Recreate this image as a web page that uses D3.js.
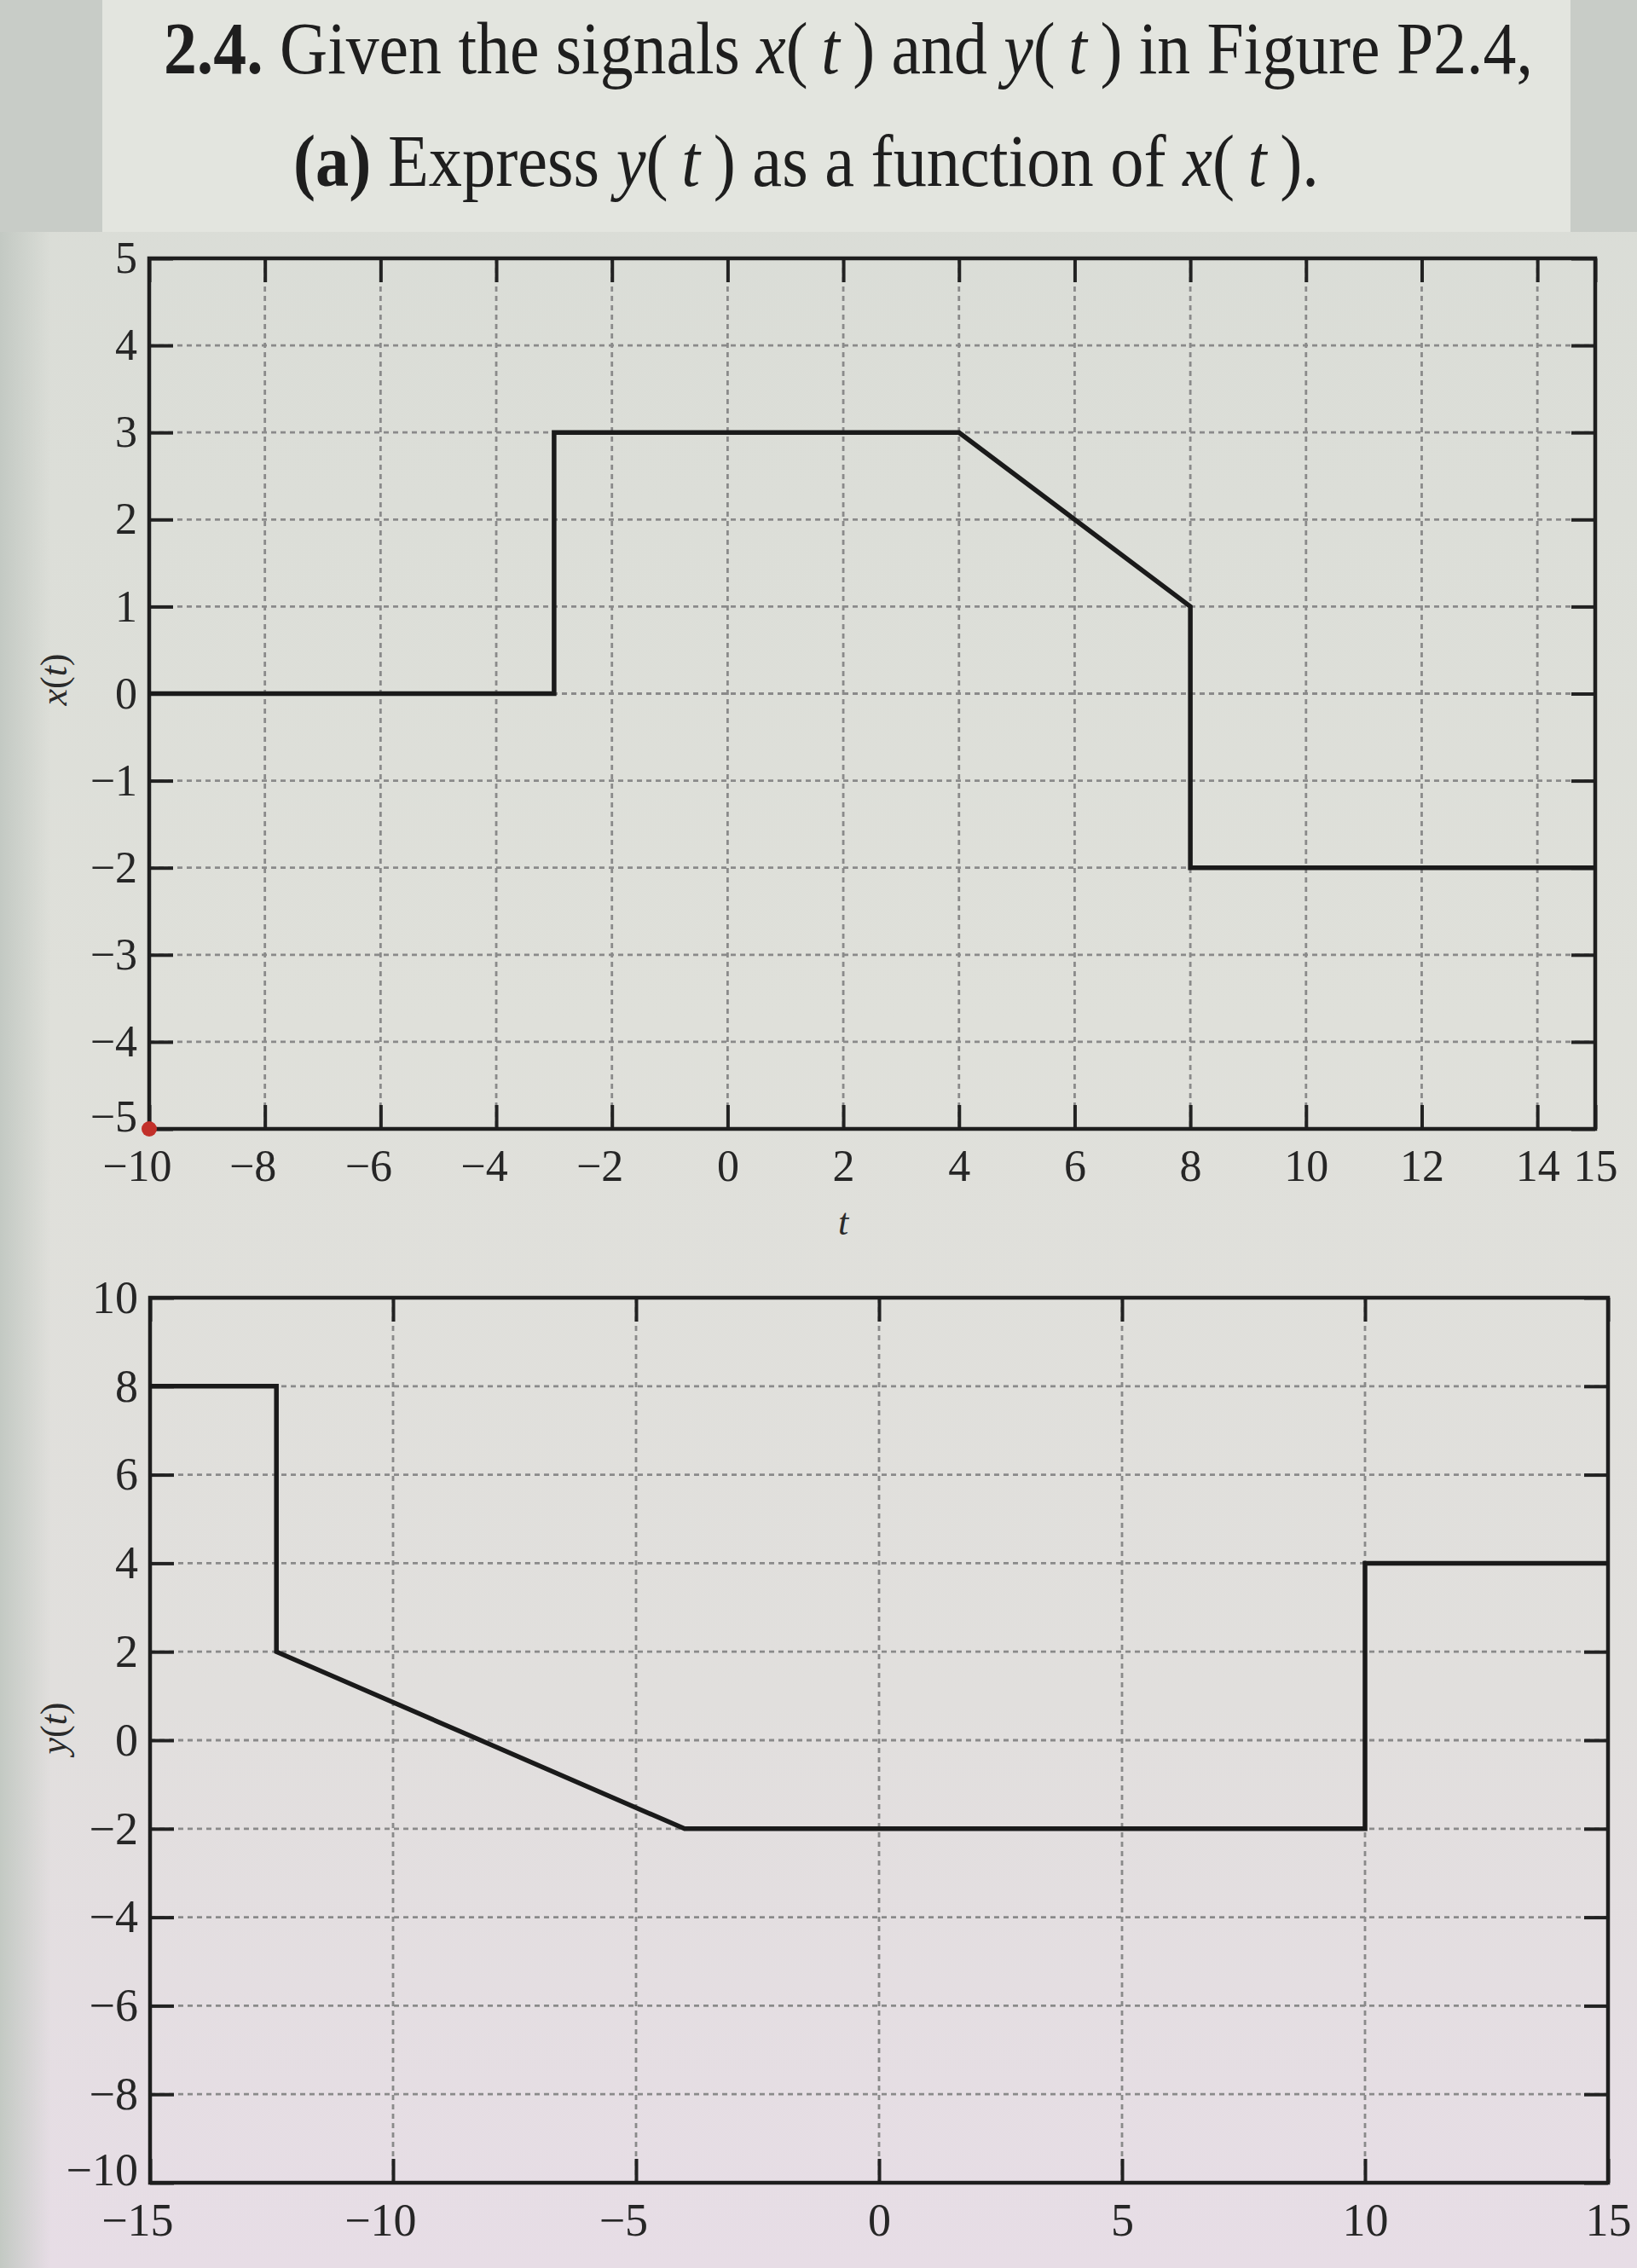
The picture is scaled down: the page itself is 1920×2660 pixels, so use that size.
<!DOCTYPE html>
<html><head><meta charset="utf-8">
<script src="https://cdn.jsdelivr.net/npm/d3@7"></script>
<style>html,body{margin:0;padding:0;background:#dcded8;} svg{display:block;}</style>
</head><body>
<script>
// ---- data ----
const xTimes  = [-10, -3, -3, 4, 8, 8, 15];
const xValues = [0, 0, 3, 3, 1, -2, -2];
const yTimes  = [-15, -12.4, -12.4, -4, 10, 10, 15];
const yValues = [8, 8, 2, -2, -2, 4, 4];

const topTTicks = [-10, -8, -6, -4, -2, 0, 2, 4, 6, 8, 10, 12, 14, 15];
const topVTicks = [-5, -4, -3, -2, -1, 0, 1, 2, 3, 4, 5];
const botTTicks = [-15, -10, -5, 0, 5, 10, 15];
const botVTicks = [-10, -8, -6, -4, -2, 0, 2, 4, 6, 8, 10];

const W = 1920, H = 2660;
const svg = d3.select("body").append("svg").attr("width", W).attr("height", H);

// ---- page background ----
const defs = svg.append("defs");
const lg = defs.append("linearGradient").attr("id", "page").attr("x1", 0).attr("y1", 0).attr("x2", 0).attr("y2", 1);
lg.append("stop").attr("offset", "0%").attr("stop-color", "#d9dcd6");
lg.append("stop").attr("offset", "45%").attr("stop-color", "#dfe0da");
lg.append("stop").attr("offset", "75%").attr("stop-color", "#e1dfdd");
lg.append("stop").attr("offset", "100%").attr("stop-color", "#e7dde6");
svg.append("rect").attr("width", W).attr("height", H).attr("fill", "url(#page)");
const lg2 = defs.append("linearGradient").attr("id", "edge").attr("x1", 0).attr("y1", 0).attr("x2", 1).attr("y2", 0);
lg2.append("stop").attr("offset", "0%").attr("stop-color", "#c3c9c3");
lg2.append("stop").attr("offset", "100%").attr("stop-color", "#c3c9c3").attr("stop-opacity", 0);
svg.append("rect").attr("x", 0).attr("y", 0).attr("width", 60).attr("height", H).attr("fill", "url(#edge)");
// title panel region
svg.append("rect").attr("x", 0).attr("y", 0).attr("width", 120).attr("height", 272).attr("fill", "#c8ccc7");
svg.append("rect").attr("x", 1842).attr("y", 0).attr("width", 78).attr("height", 272).attr("fill", "#c8ccc7");
svg.append("rect").attr("x", 120).attr("y", 0).attr("width", 1722).attr("height", 272).attr("fill", "#e3e5df");

// ---- title ----
const serif = "'Liberation Serif', 'DejaVu Serif', serif";
function titleLine(parts, x0, baseline, targetW) {
  const g = svg.append("g");
  const t = g.append("text").attr("x", 0).attr("y", 0)
    .attr("font-family", serif).attr("font-size", 80).attr("fill", "#1e1e1e");
  parts.forEach(p => {
    const s = t.append("tspan").text(p.s);
    if (p.b) s.attr("font-weight", "bold");
    if (p.i) s.attr("font-style", "italic");
  });
  const w = t.node().getComputedTextLength();
  g.attr("transform", `translate(${x0},${baseline}) scale(${targetW / w},1.08)`);
}
titleLine([
  {s: "2.4.", b: true}, {s: "  Given the signals "}, {s: "x", i: true}, {s: "(\u2009"}, {s: "t", i: true},
  {s: "\u2009) and "}, {s: "y", i: true}, {s: "(\u2009"}, {s: "t", i: true}, {s: "\u2009) in Figure P2.4,"}
], 192, 86, 1606);
titleLine([
  {s: "(a)", b: true}, {s: " Express "}, {s: "y", i: true}, {s: "(\u2009"}, {s: "t", i: true},
  {s: "\u2009) as a function of "}, {s: "x", i: true}, {s: "(\u2009"}, {s: "t", i: true}, {s: "\u2009)."}
], 344, 218, 1203);

// ---- plot helper ----
function drawPlot(o) {
  const xs = d3.scaleLinear().domain(o.tDomain).range([o.left, o.right]);
  const ys = d3.scaleLinear().domain(o.vDomain).range([o.bottom, o.top]);
  const g = svg.append("g");
  const gridCol = "#8a8a8a";
  // grid
  g.append("g").selectAll("line").data(o.gridT).join("line")
    .attr("x1", d => xs(d)).attr("x2", d => xs(d)).attr("y1", o.top).attr("y2", o.bottom)
    .attr("stroke", gridCol).attr("stroke-width", 2.8).attr("stroke-dasharray", "6,5");
  g.append("g").selectAll("line").data(o.gridV).join("line")
    .attr("y1", d => ys(d)).attr("y2", d => ys(d)).attr("x1", o.left).attr("x2", o.right)
    .attr("stroke", gridCol).attr("stroke-width", 2.8).attr("stroke-dasharray", "6,5");

  const tick = 28;
  const fmt = d3.format("");
  const styleAxis = (sel, labels) => {
    sel.select(".domain").remove();
    sel.selectAll(".tick line").attr("stroke", "#222").attr("stroke-width", 4);
    sel.selectAll(".tick text").attr("font-family", serif).attr("font-size", o.fs).attr("fill", "#262626");
    if (!labels) sel.selectAll(".tick text").remove();
  };
  const gb = g.append("g").attr("transform", `translate(0,${o.bottom})`)
    .call(d3.axisBottom(xs).tickValues(o.tTicks).tickSize(-tick).tickPadding(24).tickFormat(fmt));
  styleAxis(gb, true);
  gb.selectAll(".tick text").attr("dx", d => d < 0 ? "-0.28em" : 0);
  const gt = g.append("g").attr("transform", `translate(0,${o.top})`)
    .call(d3.axisTop(xs).tickValues(o.tTicks).tickSize(-tick));
  styleAxis(gt, false);
  const gl = g.append("g").attr("transform", `translate(${o.left},0)`)
    .call(d3.axisLeft(ys).tickValues(o.vTicks).tickSize(-tick).tickPadding(14).tickFormat(fmt));
  styleAxis(gl, true);
  // lowest y label sits just above the corner so it clears the first t label
  gl.selectAll(".tick text").filter(d => d === o.vDomain[0]).attr("dy", "0.04em");
  const gr = g.append("g").attr("transform", `translate(${o.right},0)`)
    .call(d3.axisRight(ys).tickValues(o.vTicks).tickSize(-tick));
  styleAxis(gr, false);

  // box
  g.append("rect").attr("x", o.left).attr("y", o.top)
    .attr("width", o.right - o.left).attr("height", o.bottom - o.top)
    .attr("fill", "none").attr("stroke", "#1e1e1e").attr("stroke-width", 4.5);

  // signal
  const pts = o.times.map((t, i) => [t, o.values[i]]);
  g.append("path").datum(pts)
    .attr("d", d3.line().x(d => xs(d[0])).y(d => ys(d[1])))
    .attr("fill", "none").attr("stroke", "#1a1a1a").attr("stroke-width", 5.5)
    .attr("stroke-linejoin", "miter");

  // y label
  const yl = svg.append("text").attr("transform", `translate(${o.ylabX},${o.ylabY}) rotate(-90)`)
    .attr("text-anchor", "middle").attr("font-family", serif).attr("font-size", 44).attr("fill", "#2a2a2a");
  yl.append("tspan").attr("font-style", "italic").text(o.ylab);
  yl.append("tspan").text("(");
  yl.append("tspan").attr("font-style", "italic").text("t");
  yl.append("tspan").text(")");
  return {xs, ys, g};
}

const p1 = drawPlot({
  times: xTimes, values: xValues, tDomain: [-10, 15], vDomain: [-5, 5],
  tTicks: topTTicks, vTicks: topVTicks,
  gridT: topTTicks.filter(d => d > -10 && d < 15), gridV: topVTicks.filter(d => d > -5 && d < 5),
  left: 175, right: 1871, top: 303, bottom: 1324, fs: 52,
  ylab: "x", ylabX: 78, ylabY: 797
});
// red mark at the lower-left corner of the upper plot
p1.g.append("circle").attr("cx", p1.xs(-10)).attr("cy", p1.ys(-5)).attr("r", 9).attr("fill", "#c2302a");
// axis title t
svg.append("text").attr("x", p1.xs(2)).attr("y", 1448).attr("text-anchor", "middle")
  .attr("font-family", serif).attr("font-style", "italic").attr("font-size", 44).attr("fill", "#2a2a2a").text("t");

drawPlot({
  times: yTimes, values: yValues, tDomain: [-15, 15], vDomain: [-10, 10],
  tTicks: botTTicks, vTicks: botVTicks,
  gridT: botTTicks.filter(d => d > -15 && d < 15), gridV: botVTicks.filter(d => d > -10 && d < 10),
  left: 176, right: 1886, top: 1522, bottom: 2560, fs: 54,
  ylab: "y", ylabX: 78, ylabY: 2027
});
</script>
</body></html>
